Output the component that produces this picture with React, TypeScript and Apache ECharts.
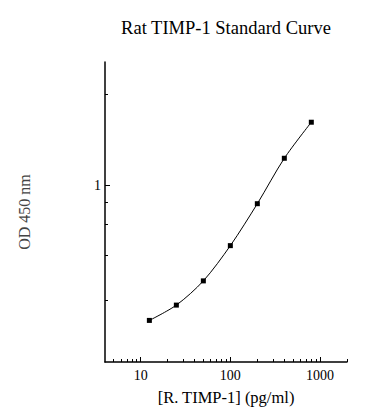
import React, { useEffect, useRef } from "react";
import * as echarts from "echarts";

const concentrations = [12.5, 25, 50, 100, 200, 400, 800];
const odValues = [0.172, 0.21, 0.288, 0.456, 0.788, 1.425, 2.28];
const xMajorTicks = [10, 100, 1000];
const xMinorTicks = [5, 6, 7, 8, 9, 20, 30, 40, 50, 60, 70, 80, 90, 200, 300, 400, 500, 600, 700, 800, 900, 2000];
const yMajorTicks = [1];
const yMinorTicks = [0.225, 0.4, 0.6, 0.8, 3.3];

const FONT = "'Liberation Serif', 'Times New Roman', serif";

export default function App() {
  const ref = useRef<HTMLDivElement>(null);
  useEffect(() => {
    if (!ref.current) return;
    const chart = echarts.init(ref.current, undefined, { renderer: "svg" });
    const axisBase = {
      type: "log" as const,
      logBase: 10,
      splitLine: { show: false },
    };
    chart.setOption({
      animation: false,
      backgroundColor: "#ffffff",
      title: {
        text: "Rat TIMP-1 Standard Curve",
        left: 221,
        top: 13,
        textAlign: "center",
        textStyle: { fontFamily: FONT, fontSize: 18.5, fontWeight: "normal", color: "#000" },
      },
      grid: { left: 105, top: 62, right: 41, bottom: 58, containLabel: false },
      xAxis: [
        {
          ...axisBase,
          min: 4,
          max: 2000,
          position: "bottom",
          name: "[R. TIMP-1] (pg/ml)",
          nameLocation: "middle",
          nameGap: 27,
          nameTextStyle: { fontFamily: FONT, fontSize: 16.5, color: "#000" },
          axisLine: { show: true, lineStyle: { color: "#000", width: 1.5 } },
          axisTick: { show: true, inside: true, length: 5, customValues: xMajorTicks, lineStyle: { color: "#000", width: 1 } },
          axisLabel: {
            show: true,
            customValues: xMajorTicks,
            margin: 6,
            fontFamily: FONT,
            fontSize: 14,
            color: "#000",
            formatter: (v: number) => String(v),
          },
        },
        {
          ...axisBase,
          min: 4,
          max: 2000,
          position: "bottom",
          axisLine: { show: false },
          axisTick: { show: true, inside: true, length: 3, customValues: xMinorTicks, lineStyle: { color: "#000", width: 1 } },
          axisLabel: { show: false },
        },
      ],
      yAxis: [
        {
          ...axisBase,
          min: 0.1,
          max: 5,
          position: "left",
          name: "OD 450 nm",
          nameLocation: "middle",
          nameGap: 73,
          nameTextStyle: { fontFamily: FONT, fontSize: 16, color: "#444" },
          axisLine: { show: true, lineStyle: { color: "#000", width: 1.5 } },
          axisTick: { show: true, inside: true, length: 5, customValues: yMajorTicks, lineStyle: { color: "#000", width: 1 } },
          axisLabel: {
            show: true,
            customValues: yMajorTicks,
            margin: 4,
            fontFamily: FONT,
            fontSize: 14,
            color: "#000",
            formatter: (v: number) => String(v),
          },
        },
        {
          ...axisBase,
          min: 0.1,
          max: 5,
          position: "left",
          axisLine: { show: false },
          axisTick: { show: true, inside: true, length: 3, customValues: yMinorTicks, lineStyle: { color: "#000", width: 1 } },
          axisLabel: { show: false },
        },
      ],
      series: [
        {
          type: "line",
          xAxisIndex: 0,
          yAxisIndex: 0,
          data: concentrations.map((c, i) => [c, odValues[i]]),
          smooth: 0.3,
          symbol: "rect",
          symbolSize: 5,
          lineStyle: { color: "#000", width: 1 },
          itemStyle: { color: "#000" },
        },
      ],
    });
    return () => chart.dispose();
  }, []);
  return <div ref={ref} style={{ width: 388, height: 420, position: "absolute", left: 0, top: 0 }} />;
}
